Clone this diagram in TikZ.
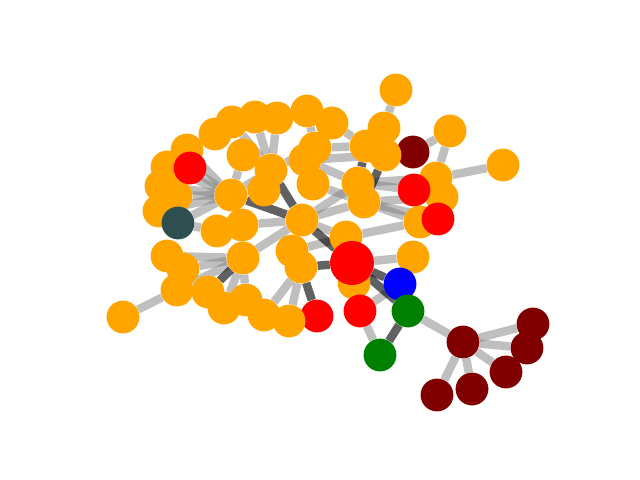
\documentclass[tikz,border=0pt]{standalone}
\usepackage{tikz}
\usetikzlibrary{backgrounds}
\definecolor{naranja}{RGB}{255,165,0}
\definecolor{granate}{RGB}{128,0,0}
\definecolor{pizarra}{RGB}{47,79,79}
\definecolor{verde}{RGB}{0,128,0}
\begin{document}
\begin{tikzpicture}[x=0.025cm,y=-0.025cm,
        nd/.style={circle,fill=naranja,inner sep=0pt,minimum size=8.2mm},
        rj/.style={circle,fill=red,inner sep=0pt,minimum size=8.2mm},
        gr/.style={circle,fill=granate,inner sep=0pt,minimum size=8.2mm},
        vd/.style={circle,fill=verde,inner sep=0pt,minimum size=8.2mm},
        lt/.style={draw=gray,opacity=0.5,line width=6pt},
        dk/.style={draw=black,opacity=0.62,line width=6pt}]
        \useasboundingbox (0,0) rectangle (640,480);
        % nodes
        \node[nd] (a1)  at (396,90)  {};
        \node[nd] (a2)  at (450,131) {};
        \node[nd] (a3)  at (503,165) {};
        \node[nd] (a4)  at (384,128) {};
        \node[gr] (a5)  at (413,152) {};
        \node[nd] (a6)  at (366,146) {};
        \node[nd] (a7)  at (385,155) {};
        \node[nd] (a8)  at (436,178) {};
        \node[nd] (a10) at (442,197) {};
        \node[rj] (a9)  at (414,190) {};
        \node[nd] (a12) at (420,222) {};
        \node[rj] (a11) at (438,219) {};
        \node[nd] (a13) at (413,257) {};
        \node[nd] (a14) at (358,183) {};
        \node[nd] (a15) at (364,202) {};
        \node[nd] (a16) at (346,237) {};
        \node[nd] (a18) at (354,283) {};
        \node[circle,fill=red,inner sep=0pt,minimum size=11mm] (a17) at (352,263) {};
        \node[circle,fill=blue,inner sep=0pt,minimum size=8.2mm] (a19) at (400,284) {};
        \node[rj] (a20) at (360,311) {};
        \node[vd] (a21) at (408,311) {};
        \node[vd] (a22) at (380,355) {};
        \node[gr] (a23) at (463,342) {};
        \node[gr] (a24) at (533,324) {};
        \node[gr] (a25) at (527,348) {};
        \node[gr] (a26) at (506,372) {};
        \node[gr] (a27) at (472,389) {};
        \node[gr] (a28) at (437,395) {};
        \node[rj] (a29) at (317,316) {};
        \node[nd] (a30) at (289,321) {};
        \node[nd] (a31) at (264,315) {};
        \node[nd] (a32) at (246,300) {};
        \node[nd] (a33) at (224,308) {};
        \node[nd] (a34) at (208,292) {};
        \node[nd] (a35) at (177,290) {};
        \node[nd] (a36) at (123,317) {};
        \node[nd] (a38) at (167,256) {};
        \node[nd] (a37) at (183,269) {};
        \node[nd] (a39) at (243,258) {};
        \node[nd] (a40) at (292,251) {};
        \node[nd] (a41) at (301,267) {};
        \node[nd] (a42) at (302,220) {};
        \node[nd] (a44) at (217,231) {};
        \node[nd] (a43) at (242,225) {};
        \node[nd] (a46) at (159,211) {};
        \node[nd] (a47) at (176,196) {};
        \node[nd] (a48) at (161,186) {};
        \node[circle,fill=pizarra,inner sep=0pt,minimum size=8.2mm] (a45) at (178,223) {};
        \node[nd] (a51) at (187,150) {};
        \node[nd] (a49) at (167,167) {};
        \node[rj] (a50) at (190,168) {};
        \node[nd] (a52) at (231,195) {};
        \node[nd] (a54) at (271,170) {};
        \node[nd] (a53) at (264,190) {};
        \node[nd] (a55) at (243,155) {};
        \node[nd] (a56) at (215,134) {};
        \node[nd] (a57) at (232,122) {};
        \node[nd] (a58) at (255,117) {};
        \node[nd] (a59) at (277,118) {};
        \node[nd] (a60) at (307,111) {};
        \node[nd] (a61) at (332,123) {};
        \node[nd] (a62) at (315,148) {};
        \node[nd] (a63) at (305,160) {};
        \node[nd] (a64) at (313,184) {};
        % edges
        \begin{scope}[on background layer]
        \foreach \u/\v in {a1/a4,a2/a5,a2/a8,a3/a8,a6/a62,a7/a63,a61/a6,a63/a14,
            a64/a15,a14/a9,a14/a8,a15/a10,a15/a11,a15/a12,a16/a12,a17/a13,
            a42/a15,a42/a14,a42/a16,a42/a39,a42/a43,a40/a16,a20/a22,a20/a19,
            a21/a23,a23/a24,a23/a25,a23/a26,a23/a27,a23/a28,a36/a35,a38/a39,
            a37/a39,a35/a39,a39/a32,a39/a33,a41/a31,a41/a30,a48/a52,a47/a52,
            a49/a52,a50/a52,a51/a52,a46/a52,a45/a52,a45/a44,a55/a52,a52/a54,
            a57/a54,a58/a54,a59/a54,a60/a62,a54/a62,a5/a7}
          \draw[lt] (\u)--(\v);
        \foreach \u/\v in {a42/a17,a52/a42,a54/a42,a41/a17,a41/a29,a17/a19,
            a17/a21,a21/a22,a39/a34,a6/a14,a7/a15}
          \draw[dk] (\u)--(\v);
        \end{scope}
      \end{tikzpicture}
\end{document}
